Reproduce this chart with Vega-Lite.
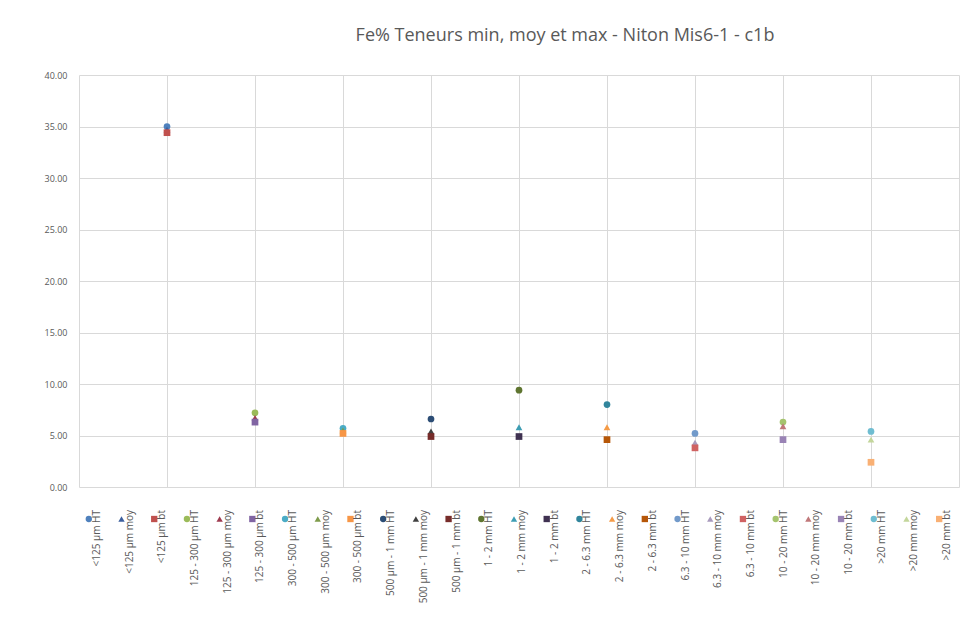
{
  "$schema": "https://vega.github.io/schema/vega-lite/v6.json",
  "background": "white",
  "padding": {"left": 44, "top": 27, "right": 10, "bottom": 10},
  "spacing": 16,
  "config": {"view": {"stroke": null}, "font": "Open Sans"},
  "datasets": {
    "fe": [
      {"series": "<125 µm HT", "pos": 1, "stat": "HT", "fe": 35.0},
      {"series": "<125 µm moy", "pos": 1, "stat": "moy", "fe": 34.7},
      {"series": "<125 µm bt", "pos": 1, "stat": "bt", "fe": 34.4},
      {"series": "125 - 300 µm HT", "pos": 2, "stat": "HT", "fe": 7.2},
      {"series": "125 - 300 µm moy", "pos": 2, "stat": "moy", "fe": 6.7},
      {"series": "125 - 300 µm bt", "pos": 2, "stat": "bt", "fe": 6.3},
      {"series": "300 - 500 µm HT", "pos": 3, "stat": "HT", "fe": 5.7},
      {"series": "300 - 500 µm moy", "pos": 3, "stat": "moy", "fe": 5.5},
      {"series": "300 - 500 µm bt", "pos": 3, "stat": "bt", "fe": 5.2},
      {"series": "500 µm - 1 mm HT", "pos": 4, "stat": "HT", "fe": 6.6},
      {"series": "500 µm - 1 mm moy", "pos": 4, "stat": "moy", "fe": 5.4},
      {"series": "500 µm - 1 mm bt", "pos": 4, "stat": "bt", "fe": 4.9},
      {"series": "1 - 2 mm HT", "pos": 5, "stat": "HT", "fe": 9.4},
      {"series": "1 - 2 mm moy", "pos": 5, "stat": "moy", "fe": 5.8},
      {"series": "1 - 2 mm bt", "pos": 5, "stat": "bt", "fe": 4.9},
      {"series": "2 - 6.3 mm HT", "pos": 6, "stat": "HT", "fe": 8.0},
      {"series": "2 - 6.3 mm moy", "pos": 6, "stat": "moy", "fe": 5.8},
      {"series": "2 - 6.3 mm bt", "pos": 6, "stat": "bt", "fe": 4.6},
      {"series": "6.3 - 10 mm HT", "pos": 7, "stat": "HT", "fe": 5.2},
      {"series": "6.3 - 10 mm moy", "pos": 7, "stat": "moy", "fe": 4.3},
      {"series": "6.3 - 10 mm bt", "pos": 7, "stat": "bt", "fe": 3.8},
      {"series": "10 - 20 mm HT", "pos": 8, "stat": "HT", "fe": 6.3},
      {"series": "10 - 20 mm moy", "pos": 8, "stat": "moy", "fe": 5.9},
      {"series": "10 - 20 mm bt", "pos": 8, "stat": "bt", "fe": 4.6},
      {"series": ">20 mm HT", "pos": 9, "stat": "HT", "fe": 5.4},
      {"series": ">20 mm moy", "pos": 9, "stat": "moy", "fe": 4.6},
      {"series": ">20 mm bt", "pos": 9, "stat": "bt", "fe": 2.4}
    ]
  },
  "data": {"name": "fe"},
  "vconcat": [
    {
      "width": 880,
      "height": 412,
      "title": {
        "text": "Fe% Teneurs min, moy et max - Niton Mis6-1 - c1b",
        "fontSize": 18,
        "fontWeight": "normal",
        "color": "#595959",
        "anchor": "middle",
        "dx": 46,
        "offset": 26
      },
      "mark": {"type": "point", "filled": true, "opacity": 1, "size": 45},
      "encoding": {
        "x": {
          "field": "pos",
          "type": "quantitative",
          "scale": {"domain": [0, 10], "nice": false},
          "axis": {"values": [0, 1, 2, 3, 4, 5, 6, 7, 8, 9, 10], "labels": false, "ticks": false, "domain": false, "title": null, "grid": true, "gridColor": "#d9d9d9"}
        },
        "y": {
          "field": "fe",
          "type": "quantitative",
          "scale": {"domain": [0, 40], "nice": false},
          "axis": {"values": [0, 5, 10, 15, 20, 25, 30, 35, 40], "format": ".2f", "title": null, "domain": false, "ticks": false, "labelFontSize": 9, "labelColor": "#595959", "labelPadding": 12, "gridColor": "#d9d9d9"}
        },
        "shape": {
          "field": "stat",
          "type": "nominal",
          "scale": {"domain": ["HT", "moy", "bt"], "range": ["circle", "triangle-up", "square"]},
          "legend": null
        },
        "color": {
          "field": "series",
          "type": "nominal",
          "sort": null,
          "scale": {
            "domain": ["<125 µm HT", "<125 µm moy", "<125 µm bt", "125 - 300 µm HT", "125 - 300 µm moy", "125 - 300 µm bt", "300 - 500 µm HT", "300 - 500 µm moy", "300 - 500 µm bt", "500 µm - 1 mm HT", "500 µm - 1 mm moy", "500 µm - 1 mm bt", "1 - 2 mm HT", "1 - 2 mm moy", "1 - 2 mm bt", "2 - 6.3 mm HT", "2 - 6.3 mm moy", "2 - 6.3 mm bt", "6.3 - 10 mm HT", "6.3 - 10 mm moy", "6.3 - 10 mm bt", "10 - 20 mm HT", "10 - 20 mm moy", "10 - 20 mm bt", ">20 mm HT", ">20 mm moy", ">20 mm bt"],
            "range": ["#4F81BD", "#3C5F9E", "#C0504D", "#9BBB59", "#9E3B4F", "#8064A2", "#4BACC6", "#7E9B4B", "#F79646", "#2C4D75", "#404040", "#772C2A", "#5F7530", "#3D9DB3", "#3F3151", "#31859C", "#F59B47", "#B65708", "#729ACA", "#A99BBD", "#D06262", "#A5C46E", "#C0787A", "#9983B5", "#6FBDD1", "#C3D69B", "#F9B074"]
          },
          "legend": null
        }
      }
    },
    {
      "width": 870,
      "height": 22,
      "encoding": {
        "x": {"field": "series", "type": "nominal", "sort": null, "scale": {"type": "point", "padding": 0.3}, "axis": null}
      },
      "layer": [
        {
          "mark": {"type": "point", "filled": true, "opacity": 1, "size": 40},
          "encoding": {
            "shape": {
              "field": "stat",
              "type": "nominal",
              "scale": {"domain": ["HT", "moy", "bt"], "range": ["circle", "triangle-up", "square"]},
              "legend": null
            },
            "color": {
              "field": "series",
              "type": "nominal",
              "sort": null,
              "scale": {
                "domain": ["<125 µm HT", "<125 µm moy", "<125 µm bt", "125 - 300 µm HT", "125 - 300 µm moy", "125 - 300 µm bt", "300 - 500 µm HT", "300 - 500 µm moy", "300 - 500 µm bt", "500 µm - 1 mm HT", "500 µm - 1 mm moy", "500 µm - 1 mm bt", "1 - 2 mm HT", "1 - 2 mm moy", "1 - 2 mm bt", "2 - 6.3 mm HT", "2 - 6.3 mm moy", "2 - 6.3 mm bt", "6.3 - 10 mm HT", "6.3 - 10 mm moy", "6.3 - 10 mm bt", "10 - 20 mm HT", "10 - 20 mm moy", "10 - 20 mm bt", ">20 mm HT", ">20 mm moy", ">20 mm bt"],
                "range": ["#4F81BD", "#3C5F9E", "#C0504D", "#9BBB59", "#9E3B4F", "#8064A2", "#4BACC6", "#7E9B4B", "#F79646", "#2C4D75", "#404040", "#772C2A", "#5F7530", "#3D9DB3", "#3F3151", "#31859C", "#F59B47", "#B65708", "#729ACA", "#A99BBD", "#D06262", "#A5C46E", "#C0787A", "#9983B5", "#6FBDD1", "#C3D69B", "#F9B074"]
              },
              "legend": null
            }
          }
        },
        {
          "mark": {"type": "text", "angle": 270, "align": "right", "baseline": "middle", "dx": 9, "dy": 8, "fontSize": 10, "color": "#595959"},
          "encoding": {"text": {"field": "series", "type": "nominal"}}
        }
      ]
    }
  ]
}
